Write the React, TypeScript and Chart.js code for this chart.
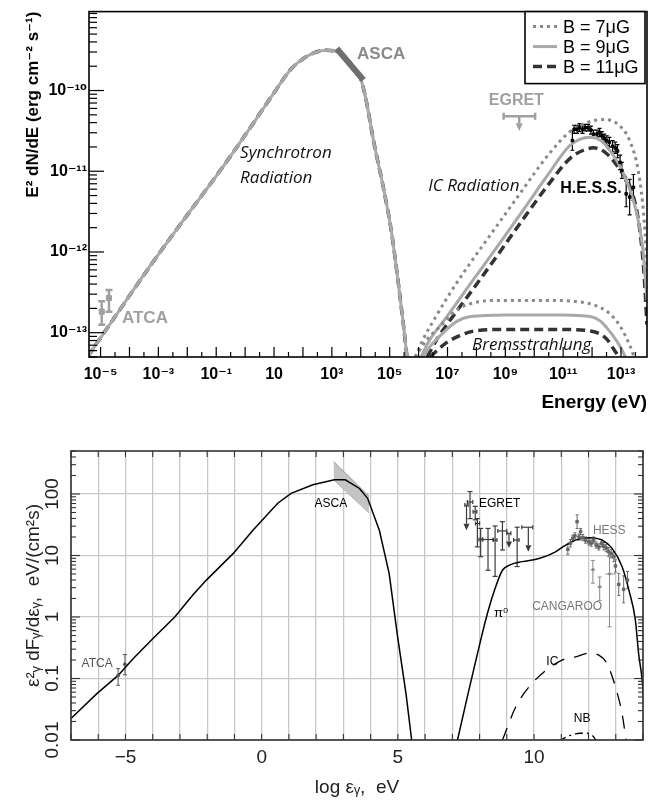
import React, { useEffect, useRef } from 'react';
import { Chart, registerables } from 'chart.js';

Chart.register(...registerables);

const SANS = '"Liberation Sans", Arial, Helvetica, "DejaVu Sans", sans-serif';
const ITAL = '"Open Sans", "Liberation Sans", sans-serif';

/* =============== TOP PANEL  (x: log10 E [eV], y: log10 E² dN/dE [erg cm⁻² s⁻¹]) =============== */
const topXTickExps = [-5, -3, -1, 1, 3, 5, 7, 9, 11, 13];
const topXTickLabels = ['10⁻⁵', '10⁻³', '10⁻¹', '10', '10³', '10⁵', '10⁷', '10⁹', '10¹¹', '10¹³'];
const topYTickExps = [-13, -12, -11, -10];
const topYTickLabels = ['10⁻¹³', '10⁻¹²', '10⁻¹¹', '10⁻¹⁰'];
const legendLabels = ['B = 7μG', 'B = 9μG', 'B = 11μG'];

// synchrotron (the three field values overlap)
const syncLogE = [-5.45, -4.4, -3.2, -2.1, -0.9, 0.2, 0.9, 1.6, 2.0, 2.4, 2.8, 3.1, 3.45, 3.8, 4.0, 4.15, 4.32, 4.44, 4.78, 5.07, 5.3, 5.48, 5.6, 5.7];
const syncLogF = [-13.3, -12.75, -12.13, -11.59, -11.01, -10.45, -10.08, -9.73, -9.61, -9.53, -9.50, -9.51, -9.58, -9.74, -9.86, -10.06, -10.38, -10.62, -11.20, -11.77, -12.39, -12.92, -13.3, -13.6];

// inverse Compton
const icDotE = [5.88, 6.2, 6.6, 7.0, 7.55, 8.5, 9.5, 10.5, 11.2, 11.8, 12.4, 12.9, 13.3, 13.6, 13.8, 13.92];
const icDotF = [-13.3, -13.05, -12.8, -12.56, -12.26, -11.78, -11.28, -10.79, -10.52, -10.40, -10.36, -10.42, -10.62, -11.0, -11.6, -12.3];
const icSolE = [6.08, 6.4, 6.98, 7.8, 8.71, 9.6, 10.5, 11.24, 11.94, 12.3, 12.63, 13.09, 13.55, 13.75, 13.9];
const icSolF = [-13.3, -13.08, -12.8, -12.39, -11.94, -11.49, -11.03, -10.68, -10.58, -10.62, -10.75, -11.03, -11.53, -11.95, -12.6];
const icDashE = [6.3, 6.6, 7.1, 7.8, 8.71, 9.6, 10.5, 11.24, 11.7, 12.05, 12.5, 13.0, 13.32, 13.6, 13.78, 13.9];
const icDashF = [-13.3, -13.1, -12.84, -12.5, -12.05, -11.6, -11.16, -10.84, -10.74, -10.71, -10.78, -11.0, -11.2, -11.6, -12.18, -12.9];

// bremsstrahlung
const brDotE = [5.88, 6.3, 6.75, 7.3, 7.9, 8.8, 10.5, 11.6, 12.17, 12.6, 12.97, 13.32, 13.45];
const brDotF = [-13.3, -13.08, -12.92, -12.72, -12.63, -12.6, -12.6, -12.62, -12.67, -12.76, -12.92, -13.17, -13.3];
const brSolE = [6.15, 6.4, 6.74, 7.32, 7.8, 9.0, 11.0, 11.94, 12.3, 12.51, 12.75, 12.97, 13.15];
const brSolF = [-13.3, -13.17, -13.04, -12.86, -12.8, -12.78, -12.78, -12.8, -12.86, -12.94, -13.05, -13.17, -13.3];
const brDashE = [6.4, 6.7, 6.98, 7.4, 7.9, 9.0, 11.0, 11.94, 12.3, 12.51, 12.74, 12.97];
const brDashF = [-13.3, -13.2, -13.12, -13.04, -12.98, -12.96, -12.96, -12.98, -13.02, -13.08, -13.2, -13.32];

// data
const ascaTopE = [3.17, 4.09];
const ascaTopF = [-9.48, -9.87];
const atcaTopE = [-4.96, -4.71];
const atcaTopF = [-12.74, -12.57];
const atcaTopLo = [-12.9, -12.74];
const atcaTopHi = [-12.61, -12.47];
const egretTopE = [9.48];
const egretTopF = [-10.32];
const egretTopXLo = [8.94];
const egretTopXHi = [10.03];
const egretTopUL = [-10.5];
const hessTopE = [11.32, 11.38, 11.48, 11.57, 11.67, 11.76, 11.86, 11.96, 12.05, 12.17, 12.26, 12.34, 12.42, 12.51, 12.6, 12.71, 12.8, 12.88, 12.97, 13.03, 13.18, 13.3, 13.43];
const hessTopF = [-10.62, -10.48, -10.48, -10.46, -10.48, -10.46, -10.46, -10.49, -10.54, -10.54, -10.52, -10.56, -10.59, -10.62, -10.64, -10.69, -10.71, -10.75, -10.89, -10.99, -11.28, -11.32, -11.2];
const hessTopErr = [0.12, 0.05, 0.05, 0.05, 0.05, 0.04, 0.04, 0.05, 0.05, 0.05, 0.05, 0.05, 0.05, 0.06, 0.06, 0.07, 0.07, 0.08, 0.09, 0.1, 0.16, 0.22, 0.16];

/* =============== BOTTOM PANEL  (x: log ε [eV], y: log10 ε² dF/dε [eV/(cm² s)]) =============== */
const botXTickValues = [-5, 0, 5, 10];
const botXTickLabels = ['−5', '0', '5', '10'];
const botYTickExps = [-2, -1, 0, 1, 2];
const botYTickLabels = ['0.01', '0.1', '1', '10', '100'];

const bSyncE = [-7.0, -6.06, -5.27, -4.72, -3.99, -3.19, -2.52, -2.03, -1.05, -0.32, 0.59, 1.08, 1.88, 2.67, 3.07, 3.59, 3.89, 4.32, 4.68, 4.99, 5.3, 5.52];
const bSyncF = [-1.65, -1.25, -0.95, -0.68, -0.35, 0.0, 0.36, 0.6, 1.03, 1.41, 1.85, 2.01, 2.15, 2.23, 2.23, 2.09, 1.93, 1.41, 0.71, -0.32, -1.25, -2.05];
const bPi0E = [7.19, 7.55, 7.92, 8.29, 8.59, 8.84, 9.08, 9.57, 10.18, 10.79, 11.16, 11.52, 12.01, 12.5, 12.86, 13.23, 13.48, 13.72, 13.84, 13.97, 14.05];
const bPi0F = [-2.0, -1.3, -0.6, 0.06, 0.49, 0.76, 0.84, 0.9, 0.95, 1.06, 1.17, 1.25, 1.29, 1.25, 1.12, 0.82, 0.44, -0.05, -0.6, -1.03, -1.5];
const bIcE = [8.84, 9.33, 9.81, 10.43, 11.03, 11.52, 12.01, 12.38, 12.68, 12.99, 13.23, 13.38];
const bIcF = [-2.0, -1.46, -1.14, -0.87, -0.7, -0.65, -0.59, -0.62, -0.76, -1.14, -1.57, -2.0];
const bNbE = [10.9, 11.3, 11.7, 11.95, 12.15, 12.3];
const bNbF = [-2.02, -1.93, -1.89, -1.89, -1.93, -2.02];
const ascaBandE = [2.64, 3.95];
const ascaBandHi = [2.53, 1.96];
const ascaBandLo = [2.23, 1.69];
const bAtcaE = [-5.27, -5.02];
const bAtcaF = [-0.95, -0.77];
const bAtcaLo = [-1.11, -0.94];
const bAtcaHi = [-0.84, -0.61];
const bEgretE = [7.52, 7.65, 7.84, 7.92, 8.04, 8.31, 8.57, 8.84, 9.08, 9.38, 9.79];
const bEgretF = [1.82, 1.87, 1.71, 1.52, 1.26, 1.26, 1.25, 1.4, 1.36, 1.25, 1.46];
const bEgretXLo = [7.46, 7.55, 7.76, 7.85, 7.98, 8.12, 8.5, 8.67, 9.0, 9.25, 9.55];
const bEgretXHi = [7.58, 7.75, 7.9, 8.0, 8.1, 8.5, 8.64, 9.0, 9.15, 9.45, 9.95];
const bEgretLo = [null, 1.6, 1.58, 1.14, 0.98, 0.76, 0.66, 1.09, null, 0.82, null];
const bEgretHi = [null, 2.04, 1.8, 1.6, 1.44, 1.44, 1.48, 1.55, null, 1.46, null];
const bEgretUL = [1.41, null, null, null, null, null, null, null, 1.12, null, 1.06];
const bHessE = [11.24, 11.34, 11.42, 11.5, 11.58, 11.65, 11.71, 11.79, 11.89, 12.01, 12.1, 12.19, 12.28, 12.38, 12.48, 12.56, 12.65, 12.74, 12.83, 12.93, 12.99, 13.11, 13.29, 13.43];
const bHessF = [1.1, 1.2, 1.28, 1.32, 1.55, 1.3, 1.39, 1.29, 1.25, 1.22, 1.2, 1.25, 1.17, 1.14, 1.2, 1.15, 1.12, 1.06, 1.03, 0.98, 0.83, 0.53, 0.45, 0.6];
const bHessErr = [0.08, 0.06, 0.05, 0.05, 0.11, 0.05, 0.05, 0.05, 0.05, 0.05, 0.05, 0.05, 0.05, 0.05, 0.06, 0.06, 0.06, 0.07, 0.07, 0.08, 0.1, 0.18, 0.22, 0.14];
const bCangE = [12.16, 12.41, 12.77];
const bCangF = [0.77, 0.49, 0.7];
const bCangXLo = [12.08, 12.33, 12.62];
const bCangXHi = [12.24, 12.49, 12.98];
const bCangLo = [0.55, 0.27, -0.16];
const bCangHi = [0.92, 0.65, 0.98];

/* ---------------- helpers ---------------- */
const p10 = (v: number) => Math.pow(10, v);
const ptsLL = (xs: number[], ys: number[]) => xs.map((x, i) => ({ x: p10(x), y: p10(ys[i]) }));
const ptsLin = (xs: number[], ys: number[]) => xs.map((x, i) => ({ x, y: p10(ys[i]) }));
const opt = (v: number | null | undefined, f: (n: number) => number) => (v == null ? undefined : f(v));

function seg(ctx: CanvasRenderingContext2D, x1: number, y1: number, x2: number, y2: number) {
  ctx.beginPath();
  ctx.moveTo(x1, y1);
  ctx.lineTo(x2, y2);
  ctx.stroke();
}

const errorBarPlugin = {
  id: 'errorBars',
  beforeDatasetsDraw(chart: any) {
    const { ctx, chartArea: ca } = chart;
    const xs = chart.scales.x;
    const ys = chart.scales.y;
    ctx.save();
    ctx.beginPath();
    ctx.rect(ca.left, ca.top, ca.right - ca.left, ca.bottom - ca.top);
    ctx.clip();
    chart.data.datasets.forEach((ds: any) => {
      const eb = ds.errorBars;
      if (!eb) return;
      const st = ds.errStyle;
      ctx.strokeStyle = st.color;
      ctx.fillStyle = st.color;
      ctx.lineWidth = st.width;
      ctx.setLineDash([]);
      ds.data.forEach((p: any, i: number) => {
        const e = eb[i];
        if (!e) return;
        const px = xs.getPixelForValue(p.x);
        const py = ys.getPixelForValue(p.y);
        if (e.xlo != null) {
          const a = xs.getPixelForValue(e.xlo);
          const b = xs.getPixelForValue(e.xhi);
          seg(ctx, a, py, b, py);
          if (st.capX) {
            seg(ctx, a, py - st.capX, a, py + st.capX);
            seg(ctx, b, py - st.capX, b, py + st.capX);
          }
        }
        if (e.ylo != null) {
          const a = ys.getPixelForValue(e.ylo);
          const b = ys.getPixelForValue(e.yhi);
          seg(ctx, px, a, px, b);
          if (st.capY) {
            seg(ctx, px - st.capY, a, px + st.capY, a);
            seg(ctx, px - st.capY, b, px + st.capY, b);
          }
        }
        if (e.ul != null) {
          const q = ys.getPixelForValue(e.ul);
          const hw = st.head;
          const hl = st.head * 2.2;
          seg(ctx, px, py, px, q - hl);
          ctx.beginPath();
          ctx.moveTo(px - hw, q - hl);
          ctx.lineTo(px + hw, q - hl);
          ctx.lineTo(px, q);
          ctx.closePath();
          ctx.fill();
        }
      });
    });
    ctx.restore();
  },
};

type TextItem = { text: string; x: number; y: number; font: string; color: string; align?: CanvasTextAlign };

function drawTexts(chart: any, items: TextItem[]) {
  const { ctx } = chart;
  const xs = chart.scales.x;
  const ys = chart.scales.y;
  ctx.save();
  items.forEach((t) => {
    ctx.font = t.font;
    ctx.fillStyle = t.color;
    ctx.textAlign = t.align || 'left';
    ctx.textBaseline = 'middle';
    ctx.fillText(t.text, xs.getPixelForValue(t.x), ys.getPixelForValue(t.y));
  });
  ctx.restore();
}

/* ---------------- top panel config ---------------- */
const topTexts: TextItem[] = [
  { text: 'Synchrotron', x: p10(-0.175), y: p10(-10.78), font: `italic 17px ${ITAL}`, color: '#111' },
  { text: 'Radiation', x: p10(-0.175), y: p10(-11.08), font: `italic 17px ${ITAL}`, color: '#111' },
  { text: 'IC Radiation', x: p10(6.33), y: p10(-11.18), font: `italic 17px ${ITAL}`, color: '#111' },
  { text: 'Bremsstrahlung', x: p10(7.85), y: p10(-13.15), font: `italic 17px ${ITAL}`, color: '#111' },
  { text: 'H.E.S.S.', x: p10(10.9), y: p10(-11.21), font: `bold 16px ${SANS}`, color: '#000' },
  { text: 'EGRET', x: p10(9.38), y: p10(-10.12), font: `bold 16px ${SANS}`, color: '#a0a0a0', align: 'center' },
  { text: 'ASCA', x: p10(3.87), y: p10(-9.55), font: `bold 17px ${SANS}`, color: '#8a8a8a' },
  { text: 'ATCA', x: p10(-4.26), y: p10(-12.82), font: `bold 17px ${SANS}`, color: '#a0a0a0' },
];

const DOT = { color: '#8a8a8a', width: 3, dash: [3, 4] };
const SOL = { color: '#a9a9a9', width: 3, dash: [] as number[] };
const DSH = { color: '#333333', width: 3.5, dash: [9, 5] };
const legendStyles = [DOT, SOL, DSH];

const topDecor = {
  id: 'topDecor',
  afterDatasetsDraw(chart: any) {
    const { ctx, chartArea } = chart;
    const { left, right, top, bottom } = chartArea;
    const xs = chart.scales.x;
    const ys = chart.scales.y;
    ctx.save();
    ctx.strokeStyle = '#000';
    ctx.lineWidth = 1.2;
    for (let e = -14; e <= -9; e++) {
      for (let m = 1; m <= 9; m++) {
        const v = m * p10(e);
        if (v < ys.min || v > ys.max) continue;
        const py = ys.getPixelForValue(v);
        seg(ctx, left, py, left + (m === 1 ? 15 : 8), py);
      }
    }
    for (let e = -6; e <= 14; e++) {
      [[0, 10], [0.5, 5]].forEach(([off, len]) => {
        const v = p10(e + off);
        if (v <= xs.min || v >= xs.max) return;
        const px = xs.getPixelForValue(v);
        seg(ctx, px, bottom, px, bottom - len);
      });
    }
    ctx.lineWidth = 1.6;
    ctx.strokeRect(left, top, right - left, bottom - top);
    ctx.restore();

    drawTexts(chart, topTexts);

    // legend box
    const w = 120;
    const h = 72;
    const x0 = right - w - 2;
    const y0 = top;
    ctx.save();
    ctx.fillStyle = '#fff';
    ctx.fillRect(x0, y0, w, h);
    ctx.strokeStyle = '#000';
    ctx.lineWidth = 1.6;
    ctx.strokeRect(x0, y0, w, h);
    legendLabels.forEach((lab, i) => {
      const st = legendStyles[i];
      const cy = y0 + 15 + i * 20;
      ctx.strokeStyle = st.color;
      ctx.lineWidth = st.width;
      ctx.setLineDash(st.dash);
      seg(ctx, x0 + 8, cy, x0 + 32, cy);
      ctx.setLineDash([]);
      ctx.fillStyle = '#000';
      ctx.font = `18px ${SANS}`;
      ctx.textAlign = 'left';
      ctx.textBaseline = 'middle';
      ctx.fillText(lab, x0 + 38, cy + 1);
    });
    ctx.restore();
  },
};

function curve(label: string, data: any[], st: { color: string; width: number; dash: number[] }, order: number) {
  return {
    label,
    data,
    borderColor: st.color,
    borderWidth: st.width,
    borderDash: st.dash,
    pointRadius: 0,
    fill: false,
    cubicInterpolationMode: 'monotone',
    order,
  };
}

function topConfig(): any {
  const datasets: any[] = [
    {
      label: 'H.E.S.S.',
      data: ptsLL(hessTopE, hessTopF),
      showLine: false,
      pointStyle: 'rect',
      pointRadius: 1.8,
      pointBackgroundColor: '#000',
      pointBorderColor: '#000',
      errorBars: hessTopE.map((_, i) => ({ ylo: p10(hessTopF[i] - hessTopErr[i]), yhi: p10(hessTopF[i] + hessTopErr[i]) })),
      errStyle: { color: '#000', width: 1.2, capY: 2 },
      order: 0,
    },
    {
      label: 'EGRET',
      data: ptsLL(egretTopE, egretTopF),
      showLine: false,
      pointRadius: 0,
      errorBars: egretTopE.map((_, i) => ({ xlo: p10(egretTopXLo[i]), xhi: p10(egretTopXHi[i]), ul: p10(egretTopUL[i]) })),
      errStyle: { color: '#a0a0a0', width: 2.5, capX: 3.5, head: 3.5 },
      order: 1,
    },
    {
      label: 'ATCA',
      data: ptsLL(atcaTopE, atcaTopF),
      showLine: false,
      pointStyle: 'rect',
      pointRadius: 3.6,
      pointBackgroundColor: '#a0a0a0',
      pointBorderColor: '#a0a0a0',
      errorBars: atcaTopE.map((_, i) => ({ ylo: p10(atcaTopLo[i]), yhi: p10(atcaTopHi[i]) })),
      errStyle: { color: '#a0a0a0', width: 2.5, capY: 3.5 },
      order: 2,
    },
    {
      label: 'ASCA',
      data: ptsLL(ascaTopE, ascaTopF),
      borderColor: '#6f6f6f',
      borderWidth: 6,
      pointRadius: 0,
      order: 3,
    },
    curve('sync 9', ptsLL(syncLogE, syncLogF), SOL, 3.5),
    curve('sync 7', ptsLL(syncLogE, syncLogF), DOT, 4),
    curve('sync 11', ptsLL(syncLogE, syncLogF), DSH, 6),
    curve('IC 7', ptsLL(icDotE, icDotF), DOT, 4),
    curve('IC 9', ptsLL(icSolE, icSolF), SOL, 5),
    curve('IC 11', ptsLL(icDashE, icDashF), DSH, 6),
    curve('Br 7', ptsLL(brDotE, brDotF), DOT, 4),
    curve('Br 9', ptsLL(brSolE, brSolF), SOL, 5),
    curve('Br 11', ptsLL(brDashE, brDashF), DSH, 6),
  ];
  return {
    type: 'line',
    data: { datasets },
    plugins: [errorBarPlugin, topDecor],
    options: {
      responsive: false,
      animation: false,
      devicePixelRatio: 1,
      layout: { padding: { left: 0, right: 12, top: 10, bottom: 0 } },
      plugins: { legend: { display: false }, tooltip: { enabled: false } },
      scales: {
        x: {
          type: 'logarithmic',
          position: 'bottom',
          min: p10(-5.4),
          max: p10(13.9),
          grid: { display: false, drawTicks: false },
          border: { display: false },
          afterBuildTicks: (s: any) => {
            s.ticks = topXTickExps.map((e) => ({ value: p10(e) }));
          },
          afterFit: (s: any) => {
            s.height = 63;
          },
          ticks: {
            autoSkip: false,
            maxRotation: 0,
            minRotation: 0,
            padding: 8,
            color: '#000',
            font: { family: SANS, size: 16, weight: 'bold' },
            callback: (v: any) => {
              const i = topXTickExps.indexOf(Math.round(Math.log10(Number(v))));
              return i >= 0 ? topXTickLabels[i] : '';
            },
          },
          title: {
            display: true,
            text: 'Energy (eV)',
            align: 'end',
            color: '#000',
            font: { family: SANS, size: 19, weight: 'bold' },
            padding: { top: 0, bottom: 6 },
          },
        },
        y: {
          type: 'logarithmic',
          position: 'left',
          min: 5e-14,
          max: 9.5e-10,
          grid: { display: false, drawTicks: false },
          border: { display: false },
          afterBuildTicks: (s: any) => {
            s.ticks = topYTickExps.map((e) => ({ value: p10(e) }));
          },
          afterFit: (s: any) => {
            s.width = 89;
          },
          ticks: {
            autoSkip: false,
            padding: 2,
            color: '#000',
            font: { family: SANS, size: 16, weight: 'bold' },
            callback: (v: any) => {
              const i = topYTickExps.indexOf(Math.round(Math.log10(Number(v))));
              return i >= 0 ? topYTickLabels[i] : '';
            },
          },
          title: {
            display: true,
            text: 'E² dN/dE (erg cm⁻² s⁻¹)',
            align: 'end',
            color: '#000',
            font: { family: SANS, size: 17, weight: 'bold' },
            padding: { top: 23, bottom: 0 },
          },
        },
      },
    },
  };
}

/* ---------------- bottom panel config ---------------- */
const botTexts: TextItem[] = [
  { text: 'ATCA', x: -6.61, y: p10(-0.76), font: `12px ${SANS}`, color: '#555' },
  { text: 'ASCA', x: 1.94, y: p10(1.85), font: `12px ${SANS}`, color: '#000' },
  { text: 'EGRET', x: 7.98, y: p10(1.85), font: `12px ${SANS}`, color: '#000' },
  { text: 'HESS', x: 12.16, y: p10(1.41), font: `12px ${SANS}`, color: '#777' },
  { text: 'CANGAROO', x: 9.93, y: p10(0.16), font: `12px ${SANS}`, color: '#777' },
  { text: 'π⁰', x: 8.53, y: p10(0.06), font: `13px ${SANS}`, color: '#000' },
  { text: 'IC', x: 10.45, y: p10(-0.73), font: `12px ${SANS}`, color: '#000' },
  { text: 'NB', x: 11.46, y: p10(-1.65), font: `12px ${SANS}`, color: '#000' },
];

const botDecor = {
  id: 'botDecor',
  afterDatasetsDraw(chart: any) {
    const { ctx, chartArea } = chart;
    const { left, right, top, bottom } = chartArea;
    const xs = chart.scales.x;
    const ys = chart.scales.y;
    ctx.save();
    ctx.strokeStyle = '#333';
    ctx.lineWidth = 1.1;
    for (let e = -2; e <= 2; e++) {
      for (let m = 1; m <= 9; m++) {
        const v = m * p10(e);
        if (v < ys.min || v > ys.max) continue;
        const py = ys.getPixelForValue(v);
        const len = m === 1 ? 9 : 5;
        seg(ctx, left, py, left + len, py);
        seg(ctx, right, py, right - len, py);
      }
    }
    for (let v = -7; v <= 14; v++) {
      const px = xs.getPixelForValue(v);
      seg(ctx, px, bottom, px, bottom - 6);
      seg(ctx, px, top, px, top + 6);
    }
    ctx.lineWidth = 1.6;
    ctx.strokeRect(left, top, right - left, bottom - top);
    ctx.restore();
    drawTexts(chart, botTexts);
  },
};

function botConfig(): any {
  const datasets: any[] = [
    {
      label: 'HESS',
      data: ptsLin(bHessE, bHessF),
      showLine: false,
      pointStyle: 'rect',
      pointRadius: 1.8,
      pointBackgroundColor: '#666',
      pointBorderColor: '#666',
      errorBars: bHessE.map((_, i) => ({ ylo: p10(bHessF[i] - bHessErr[i]), yhi: p10(bHessF[i] + bHessErr[i]) })),
      errStyle: { color: '#6a6a6a', width: 1, capY: 1.5 },
      order: 0,
    },
    {
      label: 'CANGAROO',
      data: ptsLin(bCangE, bCangF),
      showLine: false,
      pointRadius: 1.2,
      pointBackgroundColor: '#888',
      pointBorderColor: '#888',
      errorBars: bCangE.map((_, i) => ({ xlo: bCangXLo[i], xhi: bCangXHi[i], ylo: p10(bCangLo[i]), yhi: p10(bCangHi[i]) })),
      errStyle: { color: '#888', width: 1, capY: 2 },
      order: 1,
    },
    {
      label: 'EGRET',
      data: ptsLin(bEgretE, bEgretF),
      showLine: false,
      pointRadius: 0,
      errorBars: bEgretE.map((_, i) => ({
        xlo: bEgretXLo[i],
        xhi: bEgretXHi[i],
        ylo: opt(bEgretLo[i], p10),
        yhi: opt(bEgretHi[i], p10),
        ul: opt(bEgretUL[i], p10),
      })),
      errStyle: { color: '#3a3a3a', width: 1.2, capX: 2, capY: 2.5, head: 3 },
      order: 2,
    },
    {
      label: 'ATCA',
      data: ptsLin(bAtcaE, bAtcaF),
      showLine: false,
      pointRadius: 1.5,
      pointBackgroundColor: '#555',
      pointBorderColor: '#555',
      errorBars: bAtcaE.map((_, i) => ({ ylo: p10(bAtcaLo[i]), yhi: p10(bAtcaHi[i]) })),
      errStyle: { color: '#555', width: 1, capY: 2 },
      order: 3,
    },
    {
      label: 'sync',
      data: ptsLin(bSyncE, bSyncF),
      borderColor: '#000',
      borderWidth: 1.5,
      pointRadius: 0,
      tension: 0,
      order: 4,
    },
    {
      label: 'pi0',
      data: ptsLin(bPi0E, bPi0F),
      borderColor: '#000',
      borderWidth: 1.5,
      pointRadius: 0,
      cubicInterpolationMode: 'monotone',
      order: 4,
    },
    {
      label: 'IC',
      data: ptsLin(bIcE, bIcF),
      borderColor: '#000',
      borderWidth: 1.3,
      borderDash: [13, 10],
      pointRadius: 0,
      cubicInterpolationMode: 'monotone',
      order: 5,
    },
    {
      label: 'NB',
      data: ptsLin(bNbE, bNbF),
      borderColor: '#000',
      borderWidth: 1.3,
      borderDash: [8, 4, 2, 4],
      pointRadius: 0,
      cubicInterpolationMode: 'monotone',
      order: 5,
    },
    {
      label: 'ASCA hi',
      data: ptsLin(ascaBandE, ascaBandHi),
      borderColor: '#9a9a9a',
      borderWidth: 1,
      backgroundColor: '#c4c4c4',
      pointRadius: 0,
      fill: '+1',
      order: 8,
    },
    {
      label: 'ASCA lo',
      data: ptsLin(ascaBandE, ascaBandLo),
      borderColor: '#9a9a9a',
      borderWidth: 1,
      pointRadius: 0,
      fill: false,
      order: 9,
    },
  ];
  return {
    type: 'line',
    data: { datasets },
    plugins: [errorBarPlugin, botDecor],
    options: {
      responsive: false,
      animation: false,
      devicePixelRatio: 1,
      layout: { padding: { left: 0, right: 16, top: 31, bottom: 0 } },
      plugins: { legend: { display: false }, tooltip: { enabled: false } },
      scales: {
        x: {
          type: 'linear',
          position: 'bottom',
          min: -7,
          max: 14,
          grid: { display: true, color: '#c8c8c8', lineWidth: 1.3, drawTicks: false },
          border: { display: false },
          afterFit: (s: any) => {
            s.height = 65;
          },
          ticks: {
            stepSize: 1,
            autoSkip: false,
            maxRotation: 0,
            minRotation: 0,
            padding: 6,
            color: '#222',
            font: { family: SANS, size: 19 },
            callback: (v: any) => {
              const i = botXTickValues.indexOf(Math.round(Number(v)));
              return i >= 0 ? botXTickLabels[i] : '';
            },
          },
          title: {
            display: true,
            text: 'log εᵧ,  eV',
            color: '#222',
            font: { family: SANS, size: 19 },
            padding: { top: 0, bottom: 6 },
          },
        },
        y: {
          type: 'logarithmic',
          position: 'left',
          min: 0.01,
          max: 500,
          grid: { display: true, color: '#c8c8c8', lineWidth: 1.3, drawTicks: false },
          border: { display: false },
          afterBuildTicks: (s: any) => {
            s.ticks = botYTickExps.map((e) => ({ value: p10(e) }));
          },
          afterFit: (s: any) => {
            s.width = 71;
          },
          ticks: {
            autoSkip: false,
            minRotation: 90,
            maxRotation: 90,
            crossAlign: 'center',
            padding: 0,
            color: '#222',
            font: { family: SANS, size: 19 },
            callback: (v: any) => {
              const i = botYTickExps.indexOf(Math.round(Math.log10(Number(v))));
              return i >= 0 ? botYTickLabels[i] : '';
            },
          },
          title: {
            display: true,
            text: 'ε²ᵧ dFᵧ/dεᵧ,  eV/(cm²s)',
            color: '#222',
            font: { family: SANS, size: 19 },
            padding: { top: 22, bottom: 0 },
          },
        },
      },
    },
  };
}

export default function App() {
  const topRef = useRef<HTMLCanvasElement>(null);
  const botRef = useRef<HTMLCanvasElement>(null);
  useEffect(() => {
    const a = new Chart(topRef.current as HTMLCanvasElement, topConfig());
    const b = new Chart(botRef.current as HTMLCanvasElement, botConfig());
    return () => {
      a.destroy();
      b.destroy();
    };
  }, []);
  return (
    <div style={{ position: 'absolute', left: 0, top: 0, width: 659, height: 805, background: '#fff', overflow: 'hidden' }}>
      <canvas ref={topRef} width={659} height={420} style={{ position: 'absolute', left: 0, top: 0, width: 659, height: 420 }} />
      <canvas ref={botRef} width={659} height={385} style={{ position: 'absolute', left: 0, top: 420, width: 659, height: 385 }} />
    </div>
  );
}
